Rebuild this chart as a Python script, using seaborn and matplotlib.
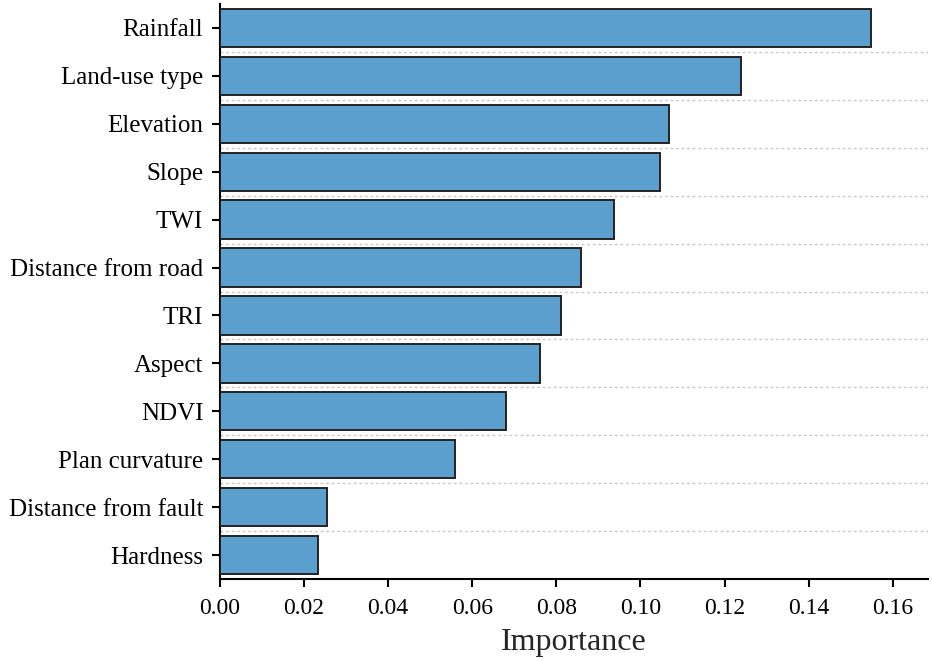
import matplotlib
matplotlib.use("Agg")
import matplotlib.pyplot as plt
import seaborn as sns
import pandas as pd
import numpy as np

factors = ["Rainfall", "Land-use type", "Elevation", "Slope", "TWI",
           "Distance from road", "TRI", "Aspect", "NDVI", "Plan curvature",
           "Distance from fault", "Hardness"]
importance = [0.1548, 0.1239, 0.1068, 0.1047, 0.0937, 0.0858, 0.0812,
              0.0760, 0.0680, 0.0558, 0.0255, 0.0232]
xticks = [0.00, 0.02, 0.04, 0.06, 0.08, 0.10, 0.12, 0.14, 0.16]

df = pd.DataFrame({"Factor": factors, "Importance": importance})

sns.set_theme(style="ticks")
plt.rcParams["font.family"] = ["Liberation Serif", "DejaVu Serif"]

fig = plt.figure(figsize=(9.32, 6.61), dpi=100)
ax = fig.add_axes([220/932, 1-579/661, (928-220)/932, (579-4)/661])

sns.barplot(data=df, x="Importance", y="Factor", orient="h", ax=ax,
            color="#5b9fcf", saturation=1, width=0.8,
            edgecolor="#222222", linewidth=1.4, zorder=3)

ax.set_xlim(0, 0.1684)
ax.set_ylim(len(factors) - 0.5, -0.5)
ax.set_xticks(xticks)
ax.set_xticklabels([f"{t:.2f}" for t in xticks])
ax.set_yticks(np.arange(len(factors) - 1) + 0.5, minor=True)
ax.grid(which="minor", axis="y", color="#c8c8c8", linestyle=(0, (2, 2)),
        linewidth=1.0, zorder=0)
ax.tick_params(which="minor", length=0)
ax.tick_params(which="major", direction="out", length=6, width=1.5,
               colors="black")
ax.tick_params(axis="y", which="major", labelsize=18, pad=6)
ax.tick_params(axis="x", which="major", labelsize=17, pad=8)
for s in ["top", "right"]:
    ax.spines[s].set_visible(False)
for s in ["left", "bottom"]:
    ax.spines[s].set_linewidth(1.5)
    ax.spines[s].set_color("black")
ax.set_ylabel("")
ax.set_xlabel("Importance", fontsize=23, labelpad=6)

fig.savefig("out.png", dpi=100)
